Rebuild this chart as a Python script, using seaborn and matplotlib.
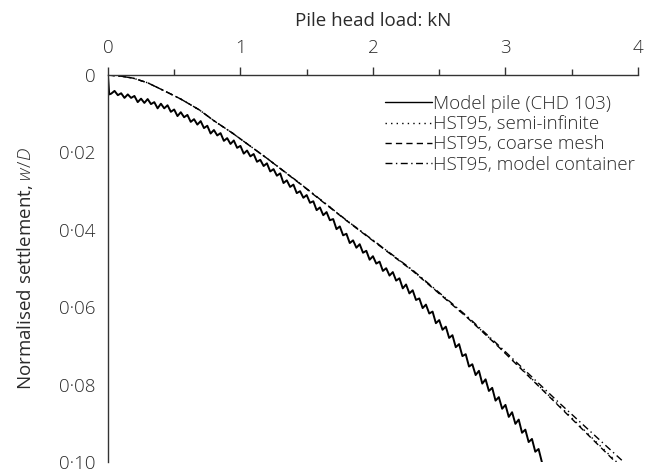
import numpy as np
import pandas as pd
import matplotlib
matplotlib.use("Agg")
import matplotlib.pyplot as plt
import seaborn as sns
from matplotlib.ticker import FixedLocator, MultipleLocator

# ---------------- data ----------------
model_load = [0.000, 0.010, 0.025, 0.050, 0.075, 0.100, 0.125, 0.150, 0.175, 0.200,
              0.225, 0.250, 0.275, 0.300, 0.325, 0.350, 0.375, 0.400, 0.425, 0.450,
              0.475, 0.500, 0.525, 0.550, 0.575, 0.600, 0.625, 0.650, 0.675, 0.700,
              0.725, 0.750, 0.775, 0.800, 0.825, 0.850, 0.875, 0.900, 0.925, 0.950,
              0.975, 1.000, 1.025, 1.050, 1.075, 1.100, 1.125, 1.150, 1.175, 1.200,
              1.225, 1.250, 1.275, 1.300, 1.325, 1.350, 1.375, 1.400, 1.425, 1.450,
              1.475, 1.500, 1.525, 1.550, 1.575, 1.600, 1.625, 1.650, 1.675, 1.700,
              1.725, 1.750, 1.775, 1.800, 1.825, 1.850, 1.875, 1.900, 1.925, 1.950,
              1.975, 2.000, 2.025, 2.050, 2.075, 2.100, 2.125, 2.150, 2.175, 2.200,
              2.225, 2.250, 2.275, 2.300, 2.325, 2.350, 2.375, 2.400, 2.425, 2.450,
              2.475, 2.500, 2.525, 2.550, 2.575, 2.600, 2.625, 2.650, 2.675, 2.700,
              2.725, 2.750, 2.775, 2.800, 2.825, 2.850, 2.875, 2.900, 2.925, 2.950,
              2.975, 3.000, 3.025, 3.050, 3.075, 3.100, 3.125, 3.150, 3.175, 3.200,
              3.225, 3.250, 3.275]
model_wD = [0.0000, 0.0050, 0.0048, 0.0041, 0.0052, 0.0047, 0.0059, 0.0050, 0.0059, 0.0054,
            0.0070, 0.0061, 0.0072, 0.0062, 0.0075, 0.0070, 0.0086, 0.0074, 0.0086, 0.0078,
            0.0095, 0.0089, 0.0106, 0.0096, 0.0109, 0.0103, 0.0121, 0.0114, 0.0128, 0.0119,
            0.0137, 0.0131, 0.0151, 0.0142, 0.0156, 0.0150, 0.0170, 0.0163, 0.0178, 0.0169,
            0.0188, 0.0183, 0.0203, 0.0195, 0.0210, 0.0204, 0.0224, 0.0219, 0.0235, 0.0228,
            0.0249, 0.0243, 0.0260, 0.0254, 0.0279, 0.0272, 0.0289, 0.0283, 0.0305, 0.0300,
            0.0317, 0.0310, 0.0330, 0.0326, 0.0349, 0.0342, 0.0362, 0.0354, 0.0375, 0.0372,
            0.0398, 0.0391, 0.0414, 0.0410, 0.0434, 0.0427, 0.0446, 0.0437, 0.0459, 0.0454,
            0.0477, 0.0468, 0.0487, 0.0482, 0.0506, 0.0499, 0.0518, 0.0509, 0.0531, 0.0525,
            0.0551, 0.0541, 0.0564, 0.0556, 0.0581, 0.0577, 0.0602, 0.0593, 0.0616, 0.0611,
            0.0641, 0.0633, 0.0658, 0.0650, 0.0679, 0.0672, 0.0703, 0.0695, 0.0726, 0.0721,
            0.0753, 0.0747, 0.0775, 0.0764, 0.0797, 0.0786, 0.0816, 0.0808, 0.0841, 0.0832,
            0.0862, 0.0852, 0.0883, 0.0871, 0.0901, 0.0890, 0.0924, 0.0916, 0.0948, 0.0940,
            0.0973, 0.0966, 0.1000]

hst_load = [0.0, 0.10, 0.19, 0.30, 0.445, 0.55, 0.69, 0.80, 0.94, 1.20, 1.45, 1.80,
            2.30, 2.71, 2.96, 3.40, 3.90]
hst_semi_inf = [0.0, 0.0003, 0.0008, 0.0020, 0.0044, 0.0062, 0.0090, 0.0118, 0.0150,
                0.0215, 0.0280, 0.0375, 0.0505, 0.0625, 0.0705, 0.0852, 0.1020]
hst_coarse = [0.0, 0.0003, 0.0008, 0.0020, 0.0044, 0.0062, 0.0090, 0.0118, 0.0150,
              0.0215, 0.0281, 0.0376, 0.0506, 0.0626, 0.0706, 0.0854, 0.1023]
hst_container = [0.0, 0.0003, 0.0008, 0.0020, 0.0044, 0.0062, 0.0090, 0.0118, 0.0150,
                 0.0215, 0.0280, 0.0375, 0.0504, 0.0623, 0.0702, 0.0845, 0.1002]

series_labels = ["Model pile (CHD 103)", "HST95, semi-infinite",
                 "HST95, coarse mesh", "HST95, model container"]

x_ticks = [0, 1, 2, 3, 4]
x_ticklabels = ["0", "1", "2", "3", "4"]
y_ticks = [0.0, 0.02, 0.04, 0.06, 0.08, 0.10]
y_ticklabels = ["0", "0·02", "0·04", "0·06", "0·08", "0·10"]

# ---------------- style ----------------
sns.set_theme(style="white")
plt.rcParams["font.family"] = ["Open Sans", "DejaVu Sans"]
plt.rcParams["font.weight"] = "light"
plt.rcParams["mathtext.fontset"] = "custom"
plt.rcParams["mathtext.it"] = "Open Sans:italic:light"
plt.rcParams["mathtext.rm"] = "Open Sans:light"
txt = "#2b2b2b"
fs = 13.5

fig = plt.figure(figsize=(6.54, 4.75), dpi=100)
ax = fig.add_axes([0.165, 0.027, 0.8105, 0.815])

lw = 1.0
sns.lineplot(x=model_load, y=model_wD, ax=ax, color="black", linewidth=1.4,
             label=series_labels[0], sort=False)
sns.lineplot(x=hst_load, y=hst_semi_inf, ax=ax, color="black", linewidth=lw,
             linestyle=(0, (1, 3)), label=series_labels[1], sort=False)
sns.lineplot(x=hst_load, y=hst_coarse, ax=ax, color="black", linewidth=lw,
             linestyle=(0, (4.5, 3)), label=series_labels[2], sort=False)
sns.lineplot(x=hst_load, y=hst_container, ax=ax, color="black", linewidth=lw,
             linestyle=(0, (5, 2.5, 1, 2.5)), label=series_labels[3], sort=False)

ax.set_xlim(0, 4)
ax.set_ylim(0.10, 0.0)

ax.xaxis.tick_top()
ax.xaxis.set_label_position("top")
ax.xaxis.set_major_locator(FixedLocator(x_ticks))
ax.set_xticklabels(x_ticklabels)
ax.xaxis.set_minor_locator(MultipleLocator(0.5))
ax.yaxis.set_major_locator(FixedLocator(y_ticks))
ax.set_yticklabels(y_ticklabels)
ax.yaxis.set_minor_locator(MultipleLocator(0.01))

for s in ["right", "bottom"]:
    ax.spines[s].set_visible(False)
for s in ["left", "top"]:
    ax.spines[s].set_visible(True)
    ax.spines[s].set_color("#333333")
    ax.spines[s].set_linewidth(1.0)

ax.tick_params(axis="both", which="both", direction="out", color="#333333",
               width=1.0, labelsize=fs, labelcolor=txt)
ax.tick_params(axis="x", which="major", length=6, pad=7, top=True, bottom=False)
ax.tick_params(axis="x", which="minor", length=4, top=True, bottom=False)
ax.tick_params(axis="y", which="major", length=6, pad=3)
ax.tick_params(axis="y", which="minor", length=4)

ax.set_xlabel("Pile head load: kN", fontsize=fs, color=txt, labelpad=9)
ax.set_ylabel("Normalised settlement, $w/D$", fontsize=fs, color=txt, labelpad=17)
ax.grid(False)

leg = ax.legend(loc="upper right", bbox_to_anchor=(1.015, 0.978), frameon=False,
                fontsize=fs, handlelength=2.5, handletextpad=0.05,
                labelspacing=0.12, borderaxespad=0.2)
for t in leg.get_texts():
    t.set_color(txt)
for h in leg.get_lines():
    h.set_linewidth(1.0)

fig.savefig("out.png", dpi=100)
